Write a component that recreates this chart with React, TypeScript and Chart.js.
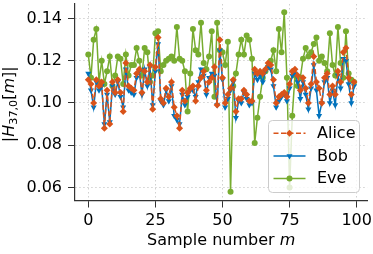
import React, { useEffect, useRef } from 'react';
import { Chart, registerables } from 'chart.js';

Chart.register(...registerables);

const xTicks = [0, 25, 50, 75, 100];
const yTicks = [0.06, 0.08, 0.1, 0.12, 0.14];

const alice = [
  0.111, 0.109, 0.100, 0.111, 0.108, 0.110, 0.088, 0.106, 0.090, 0.110,
  0.105, 0.111, 0.105, 0.096, 0.119, 0.108, 0.107, 0.106, 0.114, 0.116,
  0.105, 0.115, 0.110, 0.118, 0.097, 0.117, 0.131, 0.102, 0.100, 0.107,
  0.103, 0.110, 0.098, 0.094, 0.088, 0.106, 0.101, 0.105, 0.107, 0.108,
  0.101, 0.108, 0.112, 0.115, 0.106, 0.110, 0.112, 0.117, 0.099, 0.130,
  0.112, 0.100, 0.104, 0.107, 0.111, 0.096, 0.102, 0.102, 0.106, 0.104,
  0.101, 0.101, 0.116, 0.114, 0.115, 0.114, 0.116, 0.119, 0.118, 0.111,
  0.100, 0.103, 0.104, 0.105, 0.103, 0.109, 0.115, 0.116, 0.113, 0.106,
  0.112, 0.107, 0.100, 0.109, 0.122, 0.110, 0.107, 0.100, 0.112, 0.114,
  0.104, 0.108, 0.104, 0.115, 0.110, 0.124, 0.126, 0.112, 0.104, 0.110,
];

const bob = [
  0.114, 0.106, 0.098, 0.110, 0.106, 0.108, 0.090, 0.104, 0.091, 0.108,
  0.104, 0.110, 0.103, 0.098, 0.116, 0.106, 0.105, 0.104, 0.112, 0.115,
  0.104, 0.116, 0.108, 0.117, 0.099, 0.115, 0.128, 0.101, 0.099, 0.106,
  0.101, 0.108, 0.094, 0.092, 0.090, 0.104, 0.099, 0.103, 0.106, 0.106,
  0.103, 0.110, 0.116, 0.113, 0.104, 0.112, 0.114, 0.113, 0.099, 0.125,
  0.111, 0.098, 0.102, 0.106, 0.110, 0.093, 0.101, 0.100, 0.105, 0.102,
  0.099, 0.100, 0.114, 0.111, 0.113, 0.110, 0.115, 0.117, 0.116, 0.108,
  0.098, 0.101, 0.103, 0.104, 0.101, 0.107, 0.113, 0.114, 0.110, 0.102,
  0.110, 0.104, 0.097, 0.107, 0.118, 0.106, 0.094, 0.100, 0.110, 0.112,
  0.100, 0.106, 0.099, 0.113, 0.107, 0.121, 0.120, 0.109, 0.100, 0.108,
];

const eve = [
  0.123, 0.112, 0.130, 0.135, 0.110, 0.120, 0.109, 0.115, 0.122, 0.108,
  0.113, 0.122, 0.121, 0.109, 0.123, 0.113, 0.118, 0.118, 0.126, 0.120,
  0.113, 0.126, 0.124, 0.110, 0.113, 0.133, 0.134, 0.115, 0.118, 0.120,
  0.121, 0.122, 0.120, 0.136, 0.121, 0.120, 0.115, 0.096, 0.114, 0.135,
  0.125, 0.123, 0.138, 0.119, 0.116, 0.122, 0.134, 0.103, 0.138, 0.125,
  0.124, 0.118, 0.129, 0.058, 0.108, 0.114, 0.123, 0.130, 0.123, 0.132,
  0.130, 0.121, 0.081, 0.093, 0.103, 0.112, 0.115, 0.117, 0.120, 0.125,
  0.115, 0.135, 0.124, 0.143, 0.112, 0.060, 0.094, 0.113, 0.108, 0.112,
  0.121, 0.126, 0.122, 0.124, 0.128, 0.131, 0.120, 0.122, 0.119, 0.115,
  0.133, 0.118, 0.113, 0.136, 0.119, 0.112, 0.134, 0.114, 0.111, 0.110,
];

const seriesNames = ['Alice', 'Bob', 'Eve'];
const BLUE = '#0072BD';
const ORANGE = '#D95319';
const GREEN = '#77AC30';
const FONT = '"DejaVu Sans"';

function toPoints(arr: number[]) {
  return arr.map((v, i) => ({ x: i, y: v }));
}

type Part = { t: string; italic?: boolean; size?: number; dy?: number };

function drawParts(ctx: CanvasRenderingContext2D, parts: Part[], cx: number, y: number) {
  const widths = parts.map((p) => {
    ctx.font = `${p.italic ? 'italic ' : ''}${p.size ?? 16}px ${FONT}`;
    return ctx.measureText(p.t).width;
  });
  const total = widths.reduce((a, b) => a + b, 0);
  let x = cx - total / 2;
  parts.forEach((p, i) => {
    ctx.font = `${p.italic ? 'italic ' : ''}${p.size ?? 16}px ${FONT}`;
    ctx.fillText(p.t, x, y + (p.dy ?? 0));
    x += widths[i];
  });
}

function drawMarker(ctx: CanvasRenderingContext2D, kind: string, x: number, y: number, color: string) {
  ctx.fillStyle = color;
  ctx.strokeStyle = color;
  ctx.setLineDash([]);
  ctx.beginPath();
  if (kind === 'diamond') {
    const r = 3.5;
    ctx.moveTo(x, y - r);
    ctx.lineTo(x + r, y);
    ctx.lineTo(x, y + r);
    ctx.lineTo(x - r, y);
    ctx.closePath();
  } else if (kind === 'tri') {
    const r = 3.5;
    ctx.moveTo(x - r * 0.866, y - r * 0.5);
    ctx.lineTo(x + r * 0.866, y - r * 0.5);
    ctx.lineTo(x, y + r);
    ctx.closePath();
  } else {
    ctx.arc(x, y, 3, 0, Math.PI * 2);
  }
  ctx.fill();
}

const customPlugin = {
  id: 'customText',
  afterDraw(chart: any) {
    const ctx: CanvasRenderingContext2D = chart.ctx;
    const area = chart.chartArea;
    ctx.save();
    ctx.fillStyle = '#000';
    ctx.textBaseline = 'alphabetic';
    ctx.textAlign = 'left';
    // x title
    drawParts(ctx, [{ t: 'Sample number ' }, { t: 'm', italic: true }], (area.left + area.right) / 2, 244.5);
    // y title
    ctx.save();
    ctx.translate(13.5, (area.top + area.bottom) / 2 + 2);
    ctx.rotate(-Math.PI / 2);
    drawParts(
      ctx,
      [
        { t: '|' },
        { t: 'H', italic: true },
        { t: '37,0', size: 11.2, dy: 3.5 },
        { t: '[' },
        { t: 'm', italic: true },
        { t: ']' },
        { t: '|' },
      ],
      0,
      0
    );
    ctx.restore();

    // legend
    const bx = 268.5, by = 120.5, bw = 91, bh = 72, rad = 4;
    ctx.beginPath();
    ctx.moveTo(bx + rad, by);
    ctx.lineTo(bx + bw - rad, by);
    ctx.quadraticCurveTo(bx + bw, by, bx + bw, by + rad);
    ctx.lineTo(bx + bw, by + bh - rad);
    ctx.quadraticCurveTo(bx + bw, by + bh, bx + bw - rad, by + bh);
    ctx.lineTo(bx + rad, by + bh);
    ctx.quadraticCurveTo(bx, by + bh, bx, by + bh - rad);
    ctx.lineTo(bx, by + rad);
    ctx.quadraticCurveTo(bx, by, bx + rad, by);
    ctx.closePath();
    ctx.fillStyle = 'rgba(255,255,255,0.8)';
    ctx.fill();
    ctx.strokeStyle = '#cccccc';
    ctx.lineWidth = 1;
    ctx.stroke();

    const rows = [
      { name: seriesNames[0], color: ORANGE, dash: [5, 2.5], marker: 'diamond', y: 133.3 },
      { name: seriesNames[1], color: BLUE, dash: [], marker: 'tri', y: 156 },
      { name: seriesNames[2], color: GREEN, dash: [], marker: 'circle', y: 178.5 },
    ];
    rows.forEach((r) => {
      ctx.strokeStyle = r.color;
      ctx.lineWidth = 1.5;
      ctx.setLineDash(r.dash);
      ctx.beginPath();
      ctx.moveTo(273.5, r.y);
      ctx.lineTo(305.5, r.y);
      ctx.stroke();
      drawMarker(ctx, r.marker, 289.5, r.y, r.color);
      ctx.fillStyle = '#000';
      ctx.font = `16px ${FONT}`;
      ctx.textBaseline = 'middle';
      ctx.fillText(r.name, 317, r.y + 0.5);
    });
    ctx.restore();
  },
};

export default function App() {
  const ref = useRef<HTMLCanvasElement | null>(null);
  useEffect(() => {
    if (!ref.current) return;
    const chart = new Chart(ref.current, {
      type: 'line',
      data: {
        datasets: [
          {
            label: seriesNames[0],
            data: toPoints(alice),
            borderColor: ORANGE,
            backgroundColor: ORANGE,
            borderWidth: 1.5,
            borderDash: [5, 2.5],
            pointStyle: 'rectRot',
            pointRadius: 3.5,
            pointBorderWidth: 0,
            tension: 0,
          },
          {
            label: seriesNames[1],
            data: toPoints(bob),
            borderColor: BLUE,
            backgroundColor: BLUE,
            borderWidth: 1.5,
            pointStyle: 'triangle',
            pointRotation: 180,
            pointRadius: 3.5,
            pointBorderWidth: 0,
            tension: 0,
          },
          {
            label: seriesNames[2],
            data: toPoints(eve),
            borderColor: GREEN,
            backgroundColor: GREEN,
            borderWidth: 1.5,
            pointStyle: 'circle',
            pointRadius: 3,
            pointBorderWidth: 0,
            tension: 0,
          },
        ],
      },
      options: {
        responsive: false,
        animation: false,
        devicePixelRatio: 1,
        layout: { padding: { top: 0, right: 5.7, left: 0, bottom: 0 } },
        plugins: { legend: { display: false }, tooltip: { enabled: false } },
        scales: {
          x: {
            type: 'linear',
            min: -4.95,
            max: 103.95,
            afterBuildTicks: (s: any) => {
              s.ticks = xTicks.map((v) => ({ value: v }));
            },
            afterFit: (s: any) => {
              s.height = 53.5;
              s.paddingLeft = 0;
              s.paddingRight = 0;
              s.paddingTop = 0;
              s.paddingBottom = 0;
            },
            ticks: {
              color: '#000',
              font: { family: 'DejaVu Sans', size: 16 },
              padding: 4,
              maxRotation: 0,
              autoSkip: false,
              callback: (v: any) => String(v),
            },
            grid: {
              color: '#d0d0d0',
              lineWidth: 1,
              tickLength: 7,
              tickColor: '#333',
              tickWidth: 1,
              tickBorderDash: [],
            },
            border: { display: true, color: '#333', width: 1.2, dash: [1.5, 2.5] },
          },
          y: {
            type: 'linear',
            min: 0.0538,
            max: 0.1469,
            afterBuildTicks: (s: any) => {
              s.ticks = yTicks.map((v) => ({ value: v }));
            },
            afterFit: (s: any) => {
              s.width = 75;
              s.paddingLeft = 0;
              s.paddingRight = 0;
              s.paddingTop = 0;
              s.paddingBottom = 0;
            },
            ticks: {
              color: '#000',
              font: { family: 'DejaVu Sans', size: 16 },
              padding: 6,
              autoSkip: false,
              callback: (v: any) => Number(v).toFixed(2),
            },
            grid: {
              color: '#d0d0d0',
              lineWidth: 1,
              tickLength: 7,
              tickColor: '#333',
              tickWidth: 1,
              tickBorderDash: [],
            },
            border: { display: true, color: '#333', width: 1.2, dash: [1.5, 2.5] },
          },
        },
      } as any,
      plugins: [customPlugin],
    });
    return () => chart.destroy();
  }, []);
  return (
    <div style={{ position: 'absolute', left: 0, top: 0, width: 373, height: 254, background: '#fff' }}>
      <canvas ref={ref} width={373} height={254} style={{ display: 'block' }} />
    </div>
  );
}
